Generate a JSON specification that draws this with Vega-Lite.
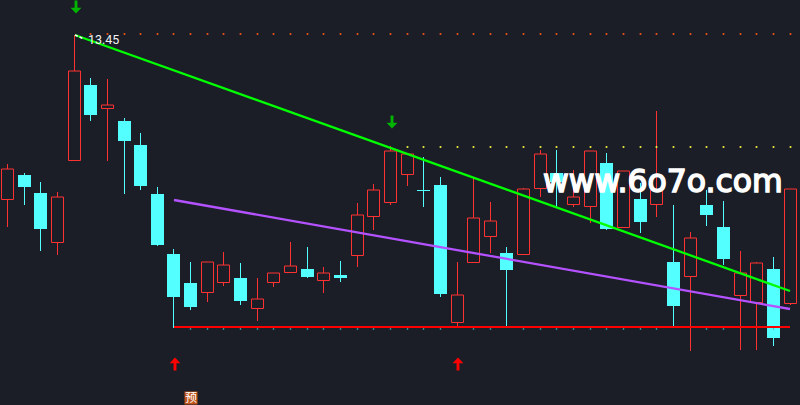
{"$schema":"https://vega.github.io/schema/vega-lite/v6.json","width":800,"height":405,"padding":0,"autosize":{"type":"fit","contains":"padding"},"background":"#1b1e27","view":{"stroke":null},
"datasets":{
"candles":[
{"i":0,"dir":"up","open":10.17,"close":10.77,"high":10.87,"low":9.61},
{"i":1,"dir":"down","open":10.65,"close":10.41,"high":10.69,"low":10.05},
{"i":2,"dir":"down","open":10.29,"close":9.57,"high":10.51,"low":9.13},
{"i":3,"dir":"up","open":9.31,"close":10.21,"high":10.31,"low":9.05},
{"i":4,"dir":"up","open":10.95,"close":12.73,"high":13.45,"low":10.95},
{"i":5,"dir":"down","open":12.45,"close":11.85,"high":12.59,"low":11.73},
{"i":6,"dir":"up","open":11.99,"close":12.05,"high":12.57,"low":10.93},
{"i":7,"dir":"down","open":11.73,"close":11.33,"high":11.79,"low":10.27},
{"i":8,"dir":"down","open":11.25,"close":10.43,"high":11.49,"low":10.35},
{"i":9,"dir":"down","open":10.27,"close":9.25,"high":10.41,"low":9.23},
{"i":10,"dir":"down","open":9.07,"close":8.21,"high":9.17,"low":7.59},
{"i":11,"dir":"down","open":8.49,"close":8.01,"high":8.91,"low":7.95},
{"i":12,"dir":"up","open":8.31,"close":8.91,"high":8.91,"low":8.11},
{"i":13,"dir":"up","open":8.51,"close":8.85,"high":9.11,"low":8.43},
{"i":14,"dir":"down","open":8.59,"close":8.13,"high":8.89,"low":8.05},
{"i":15,"dir":"up","open":7.99,"close":8.17,"high":8.59,"low":7.73},
{"i":16,"dir":"up","open":8.51,"close":8.69,"high":8.69,"low":8.41},
{"i":17,"dir":"up","open":8.71,"close":8.83,"high":9.31,"low":8.69},
{"i":18,"dir":"down","open":8.77,"close":8.61,"high":9.21,"low":8.59},
{"i":19,"dir":"up","open":8.55,"close":8.69,"high":8.81,"low":8.29},
{"i":20,"dir":"down","open":8.65,"close":8.59,"high":8.93,"low":8.51},
{"i":21,"dir":"up","open":9.05,"close":9.85,"high":10.09,"low":8.81},
{"i":22,"dir":"up","open":9.83,"close":10.35,"high":10.47,"low":9.55},
{"i":23,"dir":"up","open":10.11,"close":11.13,"high":11.23,"low":10.05},
{"i":24,"dir":"up","open":10.67,"close":11.07,"high":11.07,"low":10.43},
{"i":25,"dir":"down","open":10.35,"close":10.33,"high":11.01,"low":10.01},
{"i":26,"dir":"down","open":10.45,"close":8.27,"high":10.61,"low":8.21},
{"i":27,"dir":"up","open":7.71,"close":8.25,"high":8.91,"low":7.61},
{"i":28,"dir":"up","open":8.91,"close":9.79,"high":10.61,"low":8.91},
{"i":29,"dir":"up","open":9.43,"close":9.73,"high":10.11,"low":9.09},
{"i":30,"dir":"down","open":9.09,"close":8.75,"high":9.21,"low":7.61},
{"i":31,"dir":"up","open":9.07,"close":10.37,"high":10.39,"low":9.05},
{"i":32,"dir":"up","open":10.39,"close":11.07,"high":11.15,"low":10.21},
{"i":33,"dir":"down","open":10.69,"close":10.51,"high":11.15,"low":10.01},
{"i":34,"dir":"up","open":10.07,"close":10.21,"high":10.75,"low":10.01},
{"i":35,"dir":"up","open":10.03,"close":11.13,"high":11.13,"low":9.69},
{"i":36,"dir":"down","open":10.89,"close":9.57,"high":11.09,"low":9.55},
{"i":37,"dir":"up","open":9.61,"close":10.73,"high":10.73,"low":9.61},
{"i":38,"dir":"down","open":10.17,"close":9.71,"high":10.49,"low":9.49},
{"i":39,"dir":"up","open":10.07,"close":10.35,"high":11.93,"low":9.81},
{"i":40,"dir":"down","open":8.91,"close":8.03,"high":10.05,"low":7.61},
{"i":41,"dir":"up","open":8.63,"close":9.39,"high":9.51,"low":7.13},
{"i":42,"dir":"down","open":10.05,"close":9.85,"high":10.35,"low":9.63},
{"i":43,"dir":"down","open":9.61,"close":8.97,"high":10.13,"low":8.85},
{"i":44,"dir":"up","open":8.25,"close":8.69,"high":9.13,"low":7.15},
{"i":45,"dir":"up","open":8.11,"close":8.89,"high":8.91,"low":7.15},
{"i":46,"dir":"down","open":8.77,"close":7.39,"high":9.01,"low":7.23},
{"i":47,"dir":"up","open":8.09,"close":10.37,"high":10.37,"low":8.05}
],
"lines":[
{"name":"green","i":4.08,"p":13.45},{"name":"green","i":47,"p":8.33},
{"name":"purple","i":10.06,"p":10.15},{"name":"purple","i":47,"p":7.97},
{"name":"red","i":10.06,"p":7.61},{"name":"red","i":47,"p":7.61},
{"name":"white","i":4.08,"p":13.45},{"name":"white","i":4.6,"p":13.37}
],
"dots":[
{"s":"o","i":5,"p":13.47},{"s":"o","i":6,"p":13.47},{"s":"o","i":7,"p":13.47},{"s":"o","i":8,"p":13.47},{"s":"o","i":9,"p":13.47},{"s":"o","i":10,"p":13.47},{"s":"o","i":11,"p":13.47},{"s":"o","i":12,"p":13.47},{"s":"o","i":13,"p":13.47},{"s":"o","i":14,"p":13.47},{"s":"o","i":15,"p":13.47},{"s":"o","i":16,"p":13.47},{"s":"o","i":17,"p":13.47},{"s":"o","i":18,"p":13.47},{"s":"o","i":19,"p":13.47},{"s":"o","i":20,"p":13.47},{"s":"o","i":21,"p":13.47},{"s":"o","i":22,"p":13.47},{"s":"o","i":23,"p":13.47},{"s":"o","i":24,"p":13.47},{"s":"o","i":25,"p":13.47},{"s":"o","i":26,"p":13.47},{"s":"o","i":27,"p":13.47},{"s":"o","i":28,"p":13.47},{"s":"o","i":29,"p":13.47},{"s":"o","i":30,"p":13.47},{"s":"o","i":31,"p":13.47},{"s":"o","i":32,"p":13.47},{"s":"o","i":33,"p":13.47},{"s":"o","i":34,"p":13.47},{"s":"o","i":35,"p":13.47},{"s":"o","i":36,"p":13.47},{"s":"o","i":37,"p":13.47},{"s":"o","i":38,"p":13.47},{"s":"o","i":39,"p":13.47},{"s":"o","i":40,"p":13.47},{"s":"o","i":41,"p":13.47},{"s":"o","i":42,"p":13.47},{"s":"o","i":43,"p":13.47},{"s":"o","i":44,"p":13.47},{"s":"o","i":45,"p":13.47},{"s":"o","i":46,"p":13.47},{"s":"o","i":47,"p":13.47},
{"s":"y","i":24,"p":11.21},{"s":"y","i":25,"p":11.21},{"s":"y","i":26,"p":11.21},{"s":"y","i":27,"p":11.21},{"s":"y","i":28,"p":11.21},{"s":"y","i":29,"p":11.21},{"s":"y","i":30,"p":11.21},{"s":"y","i":31,"p":11.21},{"s":"y","i":32,"p":11.21},{"s":"y","i":33,"p":11.21},{"s":"y","i":34,"p":11.21},{"s":"y","i":35,"p":11.21},{"s":"y","i":36,"p":11.21},{"s":"y","i":37,"p":11.21},{"s":"y","i":38,"p":11.21},{"s":"y","i":39,"p":11.21},{"s":"y","i":40,"p":11.21},{"s":"y","i":41,"p":11.21},{"s":"y","i":42,"p":11.21},{"s":"y","i":43,"p":11.21},{"s":"y","i":44,"p":11.21},{"s":"y","i":45,"p":11.21},{"s":"y","i":46,"p":11.21},{"s":"y","i":47,"p":11.21},
{"s":"c","i":11,"p":7.57},{"s":"c","i":12,"p":7.57},{"s":"c","i":13,"p":7.57},{"s":"c","i":14,"p":7.57},{"s":"c","i":15,"p":7.57},{"s":"c","i":16,"p":7.57},{"s":"c","i":17,"p":7.57},{"s":"c","i":18,"p":7.57},{"s":"c","i":19,"p":7.57},{"s":"c","i":20,"p":7.57},{"s":"c","i":21,"p":7.57},{"s":"c","i":22,"p":7.57},{"s":"c","i":23,"p":7.57},{"s":"c","i":24,"p":7.57},{"s":"c","i":25,"p":7.57},{"s":"c","i":26,"p":7.57},{"s":"c","i":28,"p":7.57},{"s":"c","i":29,"p":7.57},{"s":"c","i":31,"p":7.57},{"s":"c","i":32,"p":7.57},{"s":"c","i":33,"p":7.57},{"s":"c","i":34,"p":7.57},{"s":"c","i":35,"p":7.57},{"s":"c","i":36,"p":7.57},{"s":"c","i":37,"p":7.57},{"s":"c","i":38,"p":7.57},{"s":"c","i":39,"p":7.57},{"s":"c","i":42,"p":7.57},{"s":"c","i":43,"p":7.57},{"s":"c","i":46,"p":7.57}
],
"signals":[
{"k":"down","i":4.15,"p":14.01},{"k":"down","i":23.1,"p":11.71},
{"k":"up","i":10.12,"p":6.87},{"k":"up","i":27.1,"p":6.87}
],
"labels":[
{"t":"13.45","i":4.86,"p":13.356},
{"t":"www.6o7o.com","i":32.22,"p":10.31},
{"t":"预","i":11.03,"p":6.19}
]
},
"encoding":{"x":{"field":"i","type":"quantitative","scale":{"domain":[-0.42,47.63],"nice":false,"zero":false,"padding":0,"round":true},"axis":null}},
"layer":[
{"data":{"name":"lines"},"transform":[{"filter":"datum.name==='nothing'"}],"mark":{"type":"point","opacity":0},
"encoding":{"y":{"field":"p","type":"quantitative","scale":{"domain":[6.05,14.15],"nice":false,"zero":false},"axis":{"values":[13.6,12.27,10.93,9.6,8.27,6.93],"grid":true,"gridColor":"#42454d","gridWidth":1,"gridDash":[1,3],"domain":false,"ticks":false,"labels":false,"title":null}}}},
{"data":{"name":"candles"},"transform":[{"filter":"datum.dir==='up'"}],"mark":{"type":"rule","color":"#ff3232","strokeWidth":1,"xOffset":0.5},"encoding":{"y":{"field":"high","type":"quantitative","axis":null},"y2":{"field":"low"}}},
{"data":{"name":"candles"},"transform":[{"filter":"datum.dir==='down'"}],"mark":{"type":"rule","color":"#54ffff","strokeWidth":1,"xOffset":0.5},"encoding":{"y":{"field":"high","type":"quantitative","axis":null},"y2":{"field":"low"}}},
{"data":{"name":"candles"},"transform":[{"filter":"datum.dir==='up'"}],"mark":{"type":"bar","orient":"vertical","size":12,"fill":"#1b1e27","stroke":"#ff3232","strokeWidth":1,"xOffset":0.5,"yOffset":0.5},"encoding":{"y":{"field":"open","type":"quantitative","axis":null},"y2":{"field":"close"}}},
{"data":{"name":"candles"},"transform":[{"filter":"datum.dir==='down'"}],"mark":{"type":"bar","orient":"vertical","size":13,"fill":"#54ffff","stroke":null,"xOffset":0.5},"encoding":{"y":{"field":"open","type":"quantitative","axis":null},"y2":{"field":"close"}}},
{"data":{"name":"dots"},"transform":[{"filter":"datum.s==='o'"}],"mark":{"type":"point","shape":"square","filled":true,"size":3,"color":"#ff5a14","opacity":1,"xOffset":0.5},"encoding":{"y":{"field":"p","type":"quantitative","axis":null}}},
{"data":{"name":"dots"},"transform":[{"filter":"datum.s==='y'"}],"mark":{"type":"point","shape":"square","filled":true,"size":3,"color":"#ffff40","opacity":1,"xOffset":0.5},"encoding":{"y":{"field":"p","type":"quantitative","axis":null}}},
{"data":{"name":"dots"},"transform":[{"filter":"datum.s==='c'"}],"mark":{"type":"point","shape":"square","filled":true,"size":2,"color":"#3fb8bd","opacity":1,"xOffset":0.5},"encoding":{"y":{"field":"p","type":"quantitative","axis":null}}},
{"data":{"name":"lines"},"transform":[{"filter":"datum.name==='red'"}],"mark":{"type":"line","color":"#ff0000","strokeWidth":2},"encoding":{"y":{"field":"p","type":"quantitative","axis":null}}},
{"data":{"name":"lines"},"transform":[{"filter":"datum.name==='purple'"}],"mark":{"type":"line","color":"#b452ff","strokeWidth":2.3},"encoding":{"y":{"field":"p","type":"quantitative","axis":null}}},
{"data":{"name":"lines"},"transform":[{"filter":"datum.name==='green'"}],"mark":{"type":"line","color":"#00ff00","strokeWidth":2.3},"encoding":{"y":{"field":"p","type":"quantitative","axis":null}}},
{"data":{"name":"lines"},"transform":[{"filter":"datum.name==='white'"}],"mark":{"type":"line","color":"#ffffff","strokeWidth":1.5,"strokeDash":[3,2]},"encoding":{"y":{"field":"p","type":"quantitative","axis":null}}},
{"data":{"name":"signals"},"transform":[{"filter":"datum.k==='down'"}],"mark":{"type":"point","filled":true,"opacity":1,"size":170,"color":"#00b400","shape":"M-0.22,-1 L0.22,-1 L0.22,0.1 L0.83,0.1 L0,1 L-0.83,0.1 L-0.22,0.1 Z"},"encoding":{"y":{"field":"p","type":"quantitative","axis":null}}},
{"data":{"name":"signals"},"transform":[{"filter":"datum.k==='up'"}],"mark":{"type":"point","filled":true,"opacity":1,"size":170,"color":"#ff0000","shape":"M-0.22,1 L0.22,1 L0.22,-0.1 L0.83,-0.1 L0,-1 L-0.83,-0.1 L-0.22,-0.1 Z"},"encoding":{"y":{"field":"p","type":"quantitative","axis":null}}},
{"data":{"name":"labels"},"transform":[{"filter":"datum.t==='预'"}],"mark":{"type":"point","shape":"square","filled":true,"opacity":1,"size":169,"color":"#c0551c"},"encoding":{"y":{"field":"p","type":"quantitative","axis":null}}},
{"data":{"name":"labels"},"transform":[{"filter":"datum.t==='预'"}],"mark":{"type":"text","font":"Noto Sans CJK SC","fontSize":12,"color":"#ffffff","baseline":"middle","align":"center"},"encoding":{"y":{"field":"p","type":"quantitative","axis":null},"text":{"field":"t"}}},
{"data":{"name":"labels"},"transform":[{"filter":"datum.t==='13.45'"}],"mark":{"type":"text","font":"Roboto","fontSize":12.5,"color":"#f2f2f2","baseline":"middle","align":"left"},"encoding":{"y":{"field":"p","type":"quantitative","axis":null},"text":{"field":"t"}}},
{"data":{"name":"labels"},"transform":[{"filter":"datum.t==='www.6o7o.com'"}],"mark":{"type":"text","font":"DejaVu Sans","fontSize":31.5,"color":"#ffffff","stroke":"#ffffff","strokeWidth":1.5,"baseline":"alphabetic","align":"left"},"encoding":{"y":{"field":"p","type":"quantitative","axis":null},"text":{"field":"t"}}}
]}
